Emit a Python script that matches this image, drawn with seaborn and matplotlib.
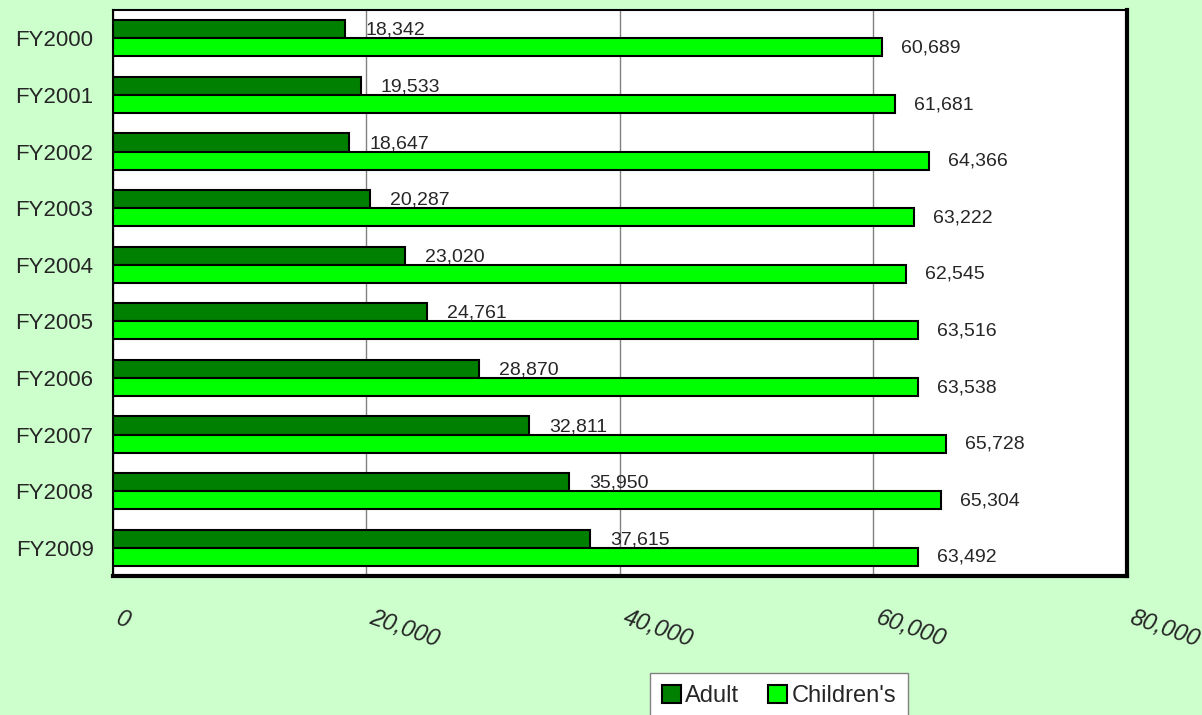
import matplotlib.pyplot as plt
import seaborn as sns
import pandas as pd
from matplotlib.patches import Patch

# data
years = ['FY2000', 'FY2001', 'FY2002', 'FY2003', 'FY2004',
         'FY2005', 'FY2006', 'FY2007', 'FY2008', 'FY2009']
adult = [18342, 19533, 18647, 20287, 23020, 24761, 28870, 32811, 35950, 37615]
children = [60689, 61681, 64366, 63222, 62545, 63516, 63538, 65728, 65304, 63492]
series = ['Adult', "Children's"]
colors = ['#008000', '#00ff00']
x_ticks = [0, 20000, 40000, 60000, 80000]

df = pd.DataFrame({
    'year': years * 2,
    'value': adult + children,
    'series': [series[0]] * len(years) + [series[1]] * len(years),
})

sns.set_theme(style='white')
plt.rcParams['font.family'] = ['Liberation Sans', 'DejaVu Sans']

fig = plt.figure(figsize=(12.02, 7.15), dpi=100)
fig.patch.set_facecolor('#ccffcc')
ax = fig.add_axes([0.094, 0.1944, 0.8436, 0.7916])
ax.set_facecolor('white')

sns.barplot(data=df, x='value', y='year', hue='series', hue_order=series,
            palette=colors, orient='h', width=0.64, saturation=1,
            edgecolor='black', linewidth=1.5, legend=False, ax=ax)

ax.set_xlim(0, 80000)
ax.set_axisbelow(True)
ax.xaxis.grid(True, color='#808080', linewidth=1)
ax.yaxis.grid(False)

# value labels
for i, v in enumerate(adult):
    ax.text(v + 1600, i - 0.14, f'{v:,}', fontsize=14, va='center', ha='left')
for i, v in enumerate(children):
    ax.text(v + 1500, i + 0.17, f'{v:,}', fontsize=14, va='center', ha='left')

ax.set_xticks(x_ticks)
ax.set_xticklabels([f'{v:,}' for v in x_ticks], rotation=-19, ha='left',
                   va='top', fontstyle='italic', fontsize=17)
ax.tick_params(axis='x', length=0, pad=22)
ax.tick_params(axis='y', length=0, pad=14, labelsize=16)
ax.set_xlabel('')
ax.set_ylabel('')

for side in ['top', 'left']:
    ax.spines[side].set_linewidth(1.5)
for side in ['right', 'bottom']:
    ax.spines[side].set_linewidth(3)
for s in ax.spines.values():
    s.set_color('black')

handles = [Patch(facecolor=c, edgecolor='black', linewidth=1.5) for c in colors]
leg = fig.legend(handles, series, loc='upper center', bbox_to_anchor=(0.648, 0.059),
                 ncol=2, fontsize=17, frameon=True, fancybox=False, framealpha=1,
                 edgecolor='#808080', handlelength=0.8, handleheight=0.8,
                 handletextpad=0.2, columnspacing=1.2, borderpad=0.5,
                 borderaxespad=0)
leg.get_frame().set_linewidth(1)

fig.savefig('out.png', dpi=100, facecolor=fig.get_facecolor())
